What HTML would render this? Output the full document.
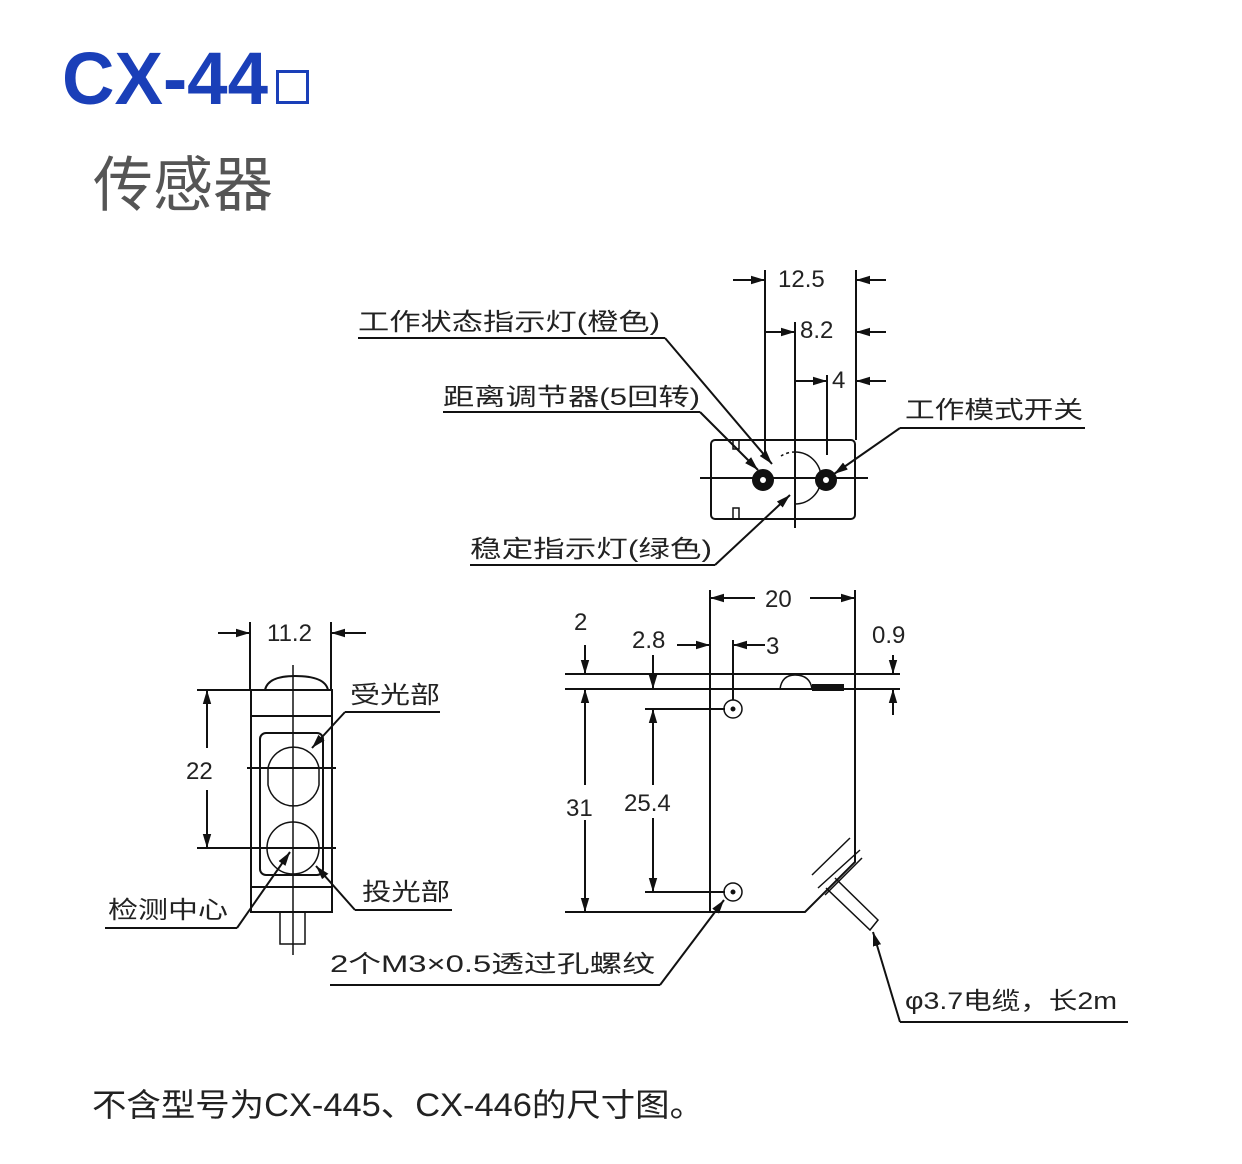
<!DOCTYPE html>
<html><head><meta charset="utf-8"><style>
html,body{margin:0;padding:0;background:#fff;width:1242px;height:1164px;overflow:hidden}
</style></head><body>
<svg width="1242" height="1164" viewBox="0 0 1242 1164" xmlns="http://www.w3.org/2000/svg">
<defs>
<marker id="a" viewBox="0 0 10 10" refX="10" refY="5" markerWidth="7" markerHeight="7" orient="auto-start-reverse"><path d="M0,2 L10,5 L0,8 z" fill="#111"/></marker>
</defs>
<text x="62" y="104" font-family="Liberation Sans, sans-serif" font-weight="bold" font-size="74" fill="#1a3fb8" textLength="206" lengthAdjust="spacingAndGlyphs">CX-44</text>
<rect x="277.5" y="71.5" width="30" height="31" fill="none" stroke="#1a3fb8" stroke-width="3"/>
<text x="93" y="206" font-family="Liberation Sans, Noto Sans CJK SC, sans-serif" font-size="60" fill="#555" textLength="180" lengthAdjust="spacingAndGlyphs">传感器</text>
<text x="92" y="1116" font-family="Liberation Sans, Noto Sans CJK SC, sans-serif" font-size="32" fill="#222" textLength="612" lengthAdjust="spacingAndGlyphs">不含型号为CX-445、CX-446的尺寸图。</text>

<g stroke="#111" stroke-width="2" fill="none" font-family="Liberation Sans, Noto Sans CJK SC, sans-serif">
<!-- TOP VIEW -->
<rect x="711" y="440" width="144" height="79" rx="4"/>
<line x1="700" y1="478" x2="868" y2="478"/>
<line x1="765" y1="270" x2="765" y2="455"/>
<line x1="856" y1="270" x2="856" y2="440"/>
<line x1="795" y1="322" x2="795" y2="528"/>
<line x1="827" y1="375" x2="827" y2="455"/>
<line x1="733" y1="280" x2="765" y2="280" marker-end="url(#a)"/>
<line x1="886" y1="280" x2="856" y2="280" marker-end="url(#a)"/>
<line x1="765" y1="332" x2="795" y2="332" marker-end="url(#a)"/>
<line x1="886" y1="332" x2="856" y2="332" marker-end="url(#a)"/>
<line x1="795" y1="381" x2="827" y2="381" marker-end="url(#a)"/>
<line x1="886" y1="381" x2="856" y2="381" marker-end="url(#a)"/>
<path d="M795 452 A26 26 0 0 1 795 504" stroke-width="1.5"/>
<path d="M795 452 A26 26 0 0 0 781 456" stroke-width="1.5" stroke-dasharray="3 3"/>
<rect x="733" y="440" width="6" height="9" stroke-width="1.5"/>
<rect x="733" y="508" width="6" height="11" stroke-width="1.5"/>
<circle cx="763" cy="480" r="10" fill="#111"/>
<circle cx="826" cy="480" r="10" fill="#111"/>
<circle cx="763" cy="480" r="3" fill="#fff" stroke="none"/>
<circle cx="826" cy="480" r="3" fill="#fff" stroke="none"/>
<!-- top labels -->
<line x1="358" y1="338" x2="665" y2="338"/><line x1="665" y1="338" x2="772" y2="464" marker-end="url(#a)"/>
<line x1="443" y1="412" x2="700" y2="412"/><line x1="700" y1="412" x2="758" y2="470" marker-end="url(#a)"/>
<line x1="900" y1="428" x2="1085" y2="428"/><line x1="900" y1="428" x2="834" y2="474" marker-end="url(#a)"/>
<line x1="470" y1="565" x2="715" y2="565"/><line x1="715" y1="565" x2="790" y2="495" marker-end="url(#a)"/>

<!-- FRONT VIEW -->
<rect x="251" y="690" width="81" height="222"/>
<path d="M265 690 Q268 676 295 676 Q325 676 328 690"/>
<line x1="251" y1="716" x2="332" y2="716"/>
<line x1="251" y1="887" x2="332" y2="887"/>
<rect x="260" y="733" width="63" height="142" rx="6"/>
<path d="M268 768 A26 26 0 0 1 319 768 L319 785 A26 26 0 0 1 268 785 Z" stroke-width="1.5"/>
<circle cx="293" cy="848" r="26" stroke-width="1.5"/>
<line x1="293" y1="665" x2="293" y2="955" stroke-width="1.5"/>
<line x1="247" y1="768" x2="336" y2="768"/>
<line x1="197" y1="848" x2="336" y2="848"/>
<line x1="197" y1="690" x2="251" y2="690"/>
<rect x="280" y="912" width="25" height="32" stroke-width="1.5"/>
<line x1="250" y1="622" x2="250" y2="690"/>
<line x1="331" y1="622" x2="331" y2="690"/>
<line x1="218" y1="633" x2="250" y2="633" marker-end="url(#a)"/>
<line x1="366" y1="633" x2="331" y2="633" marker-end="url(#a)"/>
<line x1="207" y1="748" x2="207" y2="690" marker-end="url(#a)"/>
<line x1="207" y1="790" x2="207" y2="848" marker-end="url(#a)"/>
<line x1="345" y1="712" x2="440" y2="712"/><line x1="345" y1="712" x2="312" y2="748" marker-end="url(#a)"/>
<line x1="355" y1="910" x2="452" y2="910"/><line x1="355" y1="910" x2="316" y2="866" marker-end="url(#a)"/>
<line x1="105" y1="928" x2="237" y2="928"/><line x1="237" y1="928" x2="290" y2="852" marker-end="url(#a)"/>

<!-- SIDE VIEW -->
<line x1="565" y1="674" x2="900" y2="674"/>
<line x1="565" y1="689" x2="900" y2="689"/>
<path d="M780 689 Q782 675 795 675 Q810 675 812 689" stroke-width="1.5"/>
<rect x="813" y="685" width="30" height="5" fill="#111"/>
<line x1="710" y1="590" x2="710" y2="913"/>
<path d="M855 590 L855 862 L805 912 L565 912" stroke-width="2"/>
<line x1="710" y1="598" x2="755" y2="598" marker-start="url(#a)"/>
<line x1="810" y1="598" x2="855" y2="598" marker-end="url(#a)"/>
<circle cx="733" cy="709" r="9" stroke-width="1.5"/><circle cx="733" cy="709" r="1.5" fill="#111"/>
<circle cx="733" cy="892" r="9" stroke-width="1.5"/><circle cx="733" cy="892" r="1.5" fill="#111"/>
<line x1="645" y1="709" x2="725" y2="709"/>
<line x1="645" y1="892" x2="725" y2="892"/>
<line x1="653" y1="785" x2="653" y2="709" marker-end="url(#a)"/>
<line x1="653" y1="818" x2="653" y2="892" marker-end="url(#a)"/>
<line x1="585" y1="785" x2="585" y2="689" marker-end="url(#a)"/>
<line x1="585" y1="820" x2="585" y2="912" marker-end="url(#a)"/>
<line x1="585" y1="645" x2="585" y2="674" marker-end="url(#a)"/>
<line x1="653" y1="655" x2="653" y2="689" marker-end="url(#a)"/>
<line x1="677" y1="645" x2="710" y2="645" marker-end="url(#a)"/>
<line x1="733" y1="640" x2="733" y2="700"/>
<line x1="765" y1="645" x2="733" y2="645" marker-end="url(#a)"/>
<line x1="893" y1="655" x2="893" y2="674" marker-end="url(#a)"/>
<line x1="893" y1="715" x2="893" y2="689" marker-end="url(#a)"/>
<!-- cable -->
<path d="M812 875 L850 838 M818 888 L860 850 M825 895 L862 858" stroke-width="1.5"/>
<path d="M835 878 L878 920 L870 930 L826 888" stroke-width="1.5"/>
<line x1="330" y1="985" x2="660" y2="985"/><line x1="660" y1="985" x2="724" y2="900" marker-end="url(#a)"/>
<line x1="900" y1="1022" x2="1128" y2="1022"/><line x1="900" y1="1022" x2="873" y2="932" marker-end="url(#a)"/>
</g>

<g font-family="Liberation Sans, Noto Sans CJK SC, sans-serif" fill="#222" font-size="24">
<text x="778" y="287">12.5</text>
<text x="800" y="338">8.2</text>
<text x="832" y="388">4</text>
<text x="358" y="330" textLength="302" lengthAdjust="spacingAndGlyphs">工作状态指示灯(橙色)</text>
<text x="443" y="405" textLength="257" lengthAdjust="spacingAndGlyphs">距离调节器(5回转)</text>
<text x="905" y="418" textLength="178" lengthAdjust="spacingAndGlyphs">工作模式开关</text>
<text x="470" y="557" textLength="242" lengthAdjust="spacingAndGlyphs">稳定指示灯(绿色)</text>
<text x="267" y="641">11.2</text>
<text x="186" y="779">22</text>
<text x="350" y="703" textLength="90" lengthAdjust="spacingAndGlyphs">受光部</text>
<text x="362" y="900" textLength="88" lengthAdjust="spacingAndGlyphs">投光部</text>
<text x="108" y="918" textLength="120" lengthAdjust="spacingAndGlyphs">检测中心</text>
<text x="765" y="607">20</text>
<text x="574" y="630">2</text>
<text x="632" y="648">2.8</text>
<text x="766" y="654">3</text>
<text x="872" y="643">0.9</text>
<text x="566" y="816">31</text>
<text x="624" y="811">25.4</text>
<text x="330" y="972" textLength="325" lengthAdjust="spacingAndGlyphs">2个M3×0.5透过孔螺纹</text>
<text x="905" y="1009" textLength="212" lengthAdjust="spacingAndGlyphs">φ3.7电缆，长2m</text>
</g>
</svg>
</body></html>
